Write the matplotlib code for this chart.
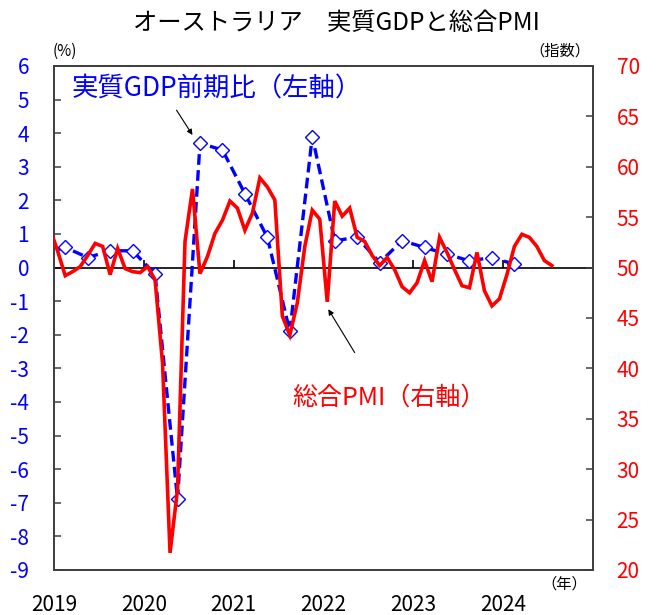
import matplotlib
matplotlib.use("Agg")
import matplotlib.pyplot as plt
import numpy as np
import pandas as pd

plt.rcParams['font.family'] = ['Noto Sans CJK JP', 'DejaVu Sans']

# ---- data ----
title = "オーストラリア　実質GDPと総合PMI"
gdp_label = "実質GDP前期比（左軸）"
pmi_label = "総合PMI（右軸）"
year_labels = ["2019", "2020", "2021", "2022", "2023", "2024"]

gdp_quarters = pd.period_range("2018Q4", "2024Q1", freq="Q")
gdp_values = [0.4,
              0.6, 0.3, 0.5, 0.5,
              -0.2, -6.9, 3.7, 3.5,
              2.2, 0.9, -1.9, 3.9,
              0.8, 0.9, 0.15, 0.8,
              0.6, 0.4, 0.2, 0.3,
              0.1]

pmi_months = pd.period_range("2018-12", "2024-07", freq="M")
pmi_values = [53.8,
              51.6, 49.2, 49.6, 50.1, 51.2, 52.4, 52.1, 49.3, 51.9, 49.9, 49.6, 49.5,
              50.1, 48.8, 40.5, 21.7, 28.0, 52.6, 57.8, 49.4, 51.1, 53.4, 54.7, 56.6,
              55.9, 53.7, 55.4, 58.9, 58.0, 56.7, 45.2, 43.3, 46.5, 52.1, 55.7, 54.8,
              46.6, 56.6, 55.1, 55.9, 53.0, 52.6, 51.2, 50.2, 51.0, 49.8, 48.1, 47.5,
              48.5, 50.7, 48.6, 53.0, 51.5, 49.8, 48.2, 48.0, 51.5, 47.7, 46.2, 46.9,
              49.3, 52.1, 53.3, 53.0, 52.1, 50.7, 50.2]

left_ticks = list(range(-9, 7))
right_ticks = list(range(20, 71, 5))

# x positions: months since Jan 2019, plotted at mid-month
def month_pos(years, months):
    return (np.asarray(years) - 2019) * 12 + (np.asarray(months) - 1) + 0.5

pmi_x = month_pos(pmi_months.year, pmi_months.month)
gdp_x = month_pos(gdp_quarters.year, (gdp_quarters.quarter - 1) * 3 + 2)
year_pos = np.arange(0, 12 * len(year_labels), 12)

BLUE = "#0000FF"
RED = "#FF0000"

fig = plt.figure(figsize=(6.57, 6.15), dpi=100)
ax = fig.add_axes([0.0822, 0.0732, 0.8204, 0.8195])
ax2 = ax.twinx()

ax.set_xlim(0, 72)
ax.set_ylim(-9, 6)
ax2.set_ylim(20, 70)

ax.plot(gdp_x, gdp_values, color=BLUE, lw=2.4, ls=(0, (3.2, 1.6)),
        marker="D", markersize=7, markerfacecolor="white",
        markeredgecolor=BLUE, markeredgewidth=1.0, zorder=3)
ax2.plot(pmi_x, pmi_values, color=RED, lw=2.6, zorder=3, solid_joinstyle="miter")

# zero line with year ticks
ax.axhline(0, color="black", lw=1.2, zorder=2)
ax.vlines(np.append(year_pos, 72), 0, 0.24, color="black", lw=1.2, zorder=2)

for a in (ax, ax2):
    for s in a.spines.values():
        s.set_color("#404040")
        s.set_linewidth(1.3)

ax.set_yticks(left_ticks)
ax.set_yticklabels([str(t) for t in left_ticks])
ax.tick_params(axis="y", direction="in", length=5, width=1.1, color="#404040",
               labelcolor=BLUE, labelsize=15, pad=18)
ax2.set_yticks(right_ticks)
ax2.set_yticklabels([str(t) for t in right_ticks])
ax2.tick_params(axis="y", direction="in", length=5, width=1.1, color="#404040",
                labelcolor=RED, labelsize=15, pad=17)

ax.set_xticks(year_pos)
ax.set_xticklabels(year_labels)
ax.tick_params(axis="x", length=0, labelsize=15, pad=17, labelcolor="black")

# unit labels
ax.text(-0.002, 1.012, "(%)", transform=ax.transAxes, ha="left", va="bottom", fontsize=11)
ax.text(0.995, 1.012, "（指数）", transform=ax.transAxes, ha="right", va="bottom", fontsize=11)
ax.text(0.99, -0.012, "（年）", transform=ax.transAxes, ha="right", va="top", fontsize=11)

# title
fig.text(0.512, 0.963, title, ha="center", va="center", fontsize=17.5)

# annotations
ax.annotate(gdp_label, xy=(0.2569, 0.8631), xytext=(0.2087, 0.9193),
            xycoords="axes fraction", textcoords="axes fraction",
            fontsize=1, color="white", alpha=0,
            arrowprops=dict(arrowstyle="-|>", color="black", lw=0.8,
                            mutation_scale=8, shrinkA=0, shrinkB=0))
ax.text(0.3024, 0.9543, gdp_label, transform=ax.transAxes, ha="center", va="center",
        fontsize=19, color=BLUE)

ax.annotate(pmi_label, xy=(0.5089, 0.5173), xytext=(0.5523, 0.4220),
            xycoords="axes fraction", textcoords="axes fraction",
            fontsize=1, color="white", alpha=0,
            arrowprops=dict(arrowstyle="-|>", color="black", lw=0.8,
                            mutation_scale=8, shrinkA=0, shrinkB=0))
ax.text(0.6215, 0.3413, pmi_label, transform=ax.transAxes, ha="center", va="center",
        fontsize=18, color=RED)

fig.savefig("out.png", dpi=100)
